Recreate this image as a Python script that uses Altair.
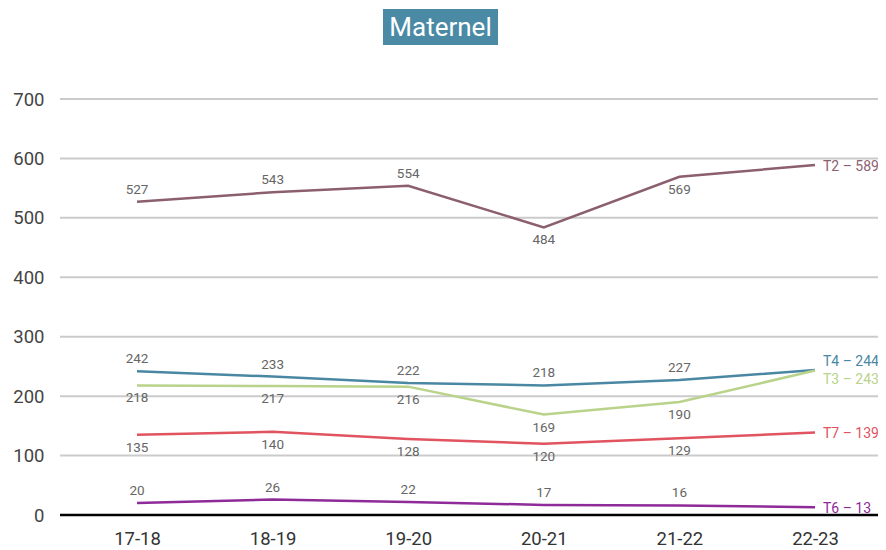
import altair as alt
import pandas as pd

years = ["17-18", "18-19", "19-20", "20-21", "21-22", "22-23"]
series_names = ["T2", "T4", "T3", "T7", "T6"]
t2 = [527, 543, 554, 484, 569, 589]
t4 = [242, 233, 222, 218, 227, 244]
t3 = [218, 217, 216, 169, 190, 243]
t7 = [135, 140, 128, 120, 129, 139]
t6 = [20, 26, 22, 17, 16, 13]
y_ticks = [0, 100, 200, 300, 400, 500, 600, 700]
colors = ["#8c5f6e", "#4a87a3", "#b9d38b", "#e0535f", "#8f2a99"]

values = {"T2": t2, "T4": t4, "T3": t3, "T7": t7, "T6": t6}

rows = []
for s in series_names:
    for i, (yr, v) in enumerate(zip(years, values[s])):
        below = s in ("T3", "T7") or (s == "T2" and yr in ("20-21", "21-22"))
        rows.append({"series": s, "year": yr, "idx": i, "value": v,
                     "pos": "below" if below else "above",
                     "last": i == len(years) - 1,
                     "endlabel": f"{s} \u2013 {v}"})
df = pd.DataFrame(rows)

FONT = "Roboto"
xscale = alt.Scale(domain=years, range=[77, 755], padding=0)
yscale = alt.Scale(domain=[0, 700])
cscale = alt.Scale(domain=series_names, range=colors)

yaxis = alt.Axis(title=None, values=y_ticks, labelFontSize=18.5, labelColor="#444",
                 labelFont=FONT, ticks=False, domain=False, labelPadding=16, grid=False)
xaxis = alt.Axis(title=None, labelAngle=0, labelFontSize=18.5, labelColor="#333",
                 labelFont=FONT, ticks=False, domain=False, labelPadding=14, grid=False)

def X():
    return alt.X("year:O", scale=xscale, sort=years, axis=xaxis)

def Y(field="value:Q"):
    return alt.Y(field, scale=yscale, axis=yaxis)

base = alt.Chart(df)

grid = alt.Chart(pd.DataFrame({"v": y_ticks[1:]})).mark_rule(color="#cbcbcb", strokeWidth=2).encode(
    y=Y("v:Q"), x=alt.value(0), x2=alt.value(826))

lines = base.mark_line(strokeWidth=2.5).encode(
    x=X(), y=Y(),
    color=alt.Color("series:N", scale=cscale, legend=None),
    order="idx:Q",
)

above = base.transform_filter("datum.pos == 'above' && !datum.last").mark_text(
    baseline="middle", dy=-12, fontSize=13.5, color="#666", font=FONT
).encode(x=X(), y=Y(), text="value:Q")

below = base.transform_filter("datum.pos == 'below' && !datum.last").mark_text(
    baseline="middle", dy=13, fontSize=13.5, color="#666", font=FONT
).encode(x=X(), y=Y(), text="value:Q")

def endlab(filt, dy):
    return base.transform_filter(filt).mark_text(
        align="left", baseline="middle", dx=8, dy=dy, fontSize=14, font=FONT
    ).encode(x=X(), y=Y(), text="endlabel:N",
             color=alt.Color("series:N", scale=cscale, legend=None))

end_main = endlab("datum.last && datum.series != 'T4' && datum.series != 'T3'", 2)
end_t4 = endlab("datum.last && datum.series == 'T4'", -8)
end_t3 = endlab("datum.last && datum.series == 'T3'", 9)

zero = alt.Chart(pd.DataFrame({"v": [0]})).mark_rule(color="#000", strokeWidth=2.5).encode(
    y=Y("v:Q"), x=alt.value(0), x2=alt.value(826))

title_box = alt.Chart(pd.DataFrame({"t": ["Maternel"]})).mark_rect(color="#4a8aa5").encode(
    x=alt.value(323), x2=alt.value(438), y=alt.value(-90), y2=alt.value(-54))
title_txt = alt.Chart(pd.DataFrame({"t": ["Maternel"]})).mark_text(
    color="white", fontSize=26, font=FONT, align="center", baseline="middle").encode(
    x=alt.value(380.5), y=alt.value(-71), text="t:N")

chart = alt.layer(grid, zero, lines, above, below, end_main, end_t4, end_t3, title_box, title_txt).properties(
    width=818, height=416,
    background="white",
    autosize=alt.AutoSizeParams(type="none"),
    padding={"left": 52, "top": 91, "right": 0, "bottom": 35},
).configure_view(strokeWidth=0, stroke="transparent").configure_axis(
    domain=False, grid=False, ticks=False
)

chart.save("out.html", embed_options={"renderer": "svg", "actions": False})
